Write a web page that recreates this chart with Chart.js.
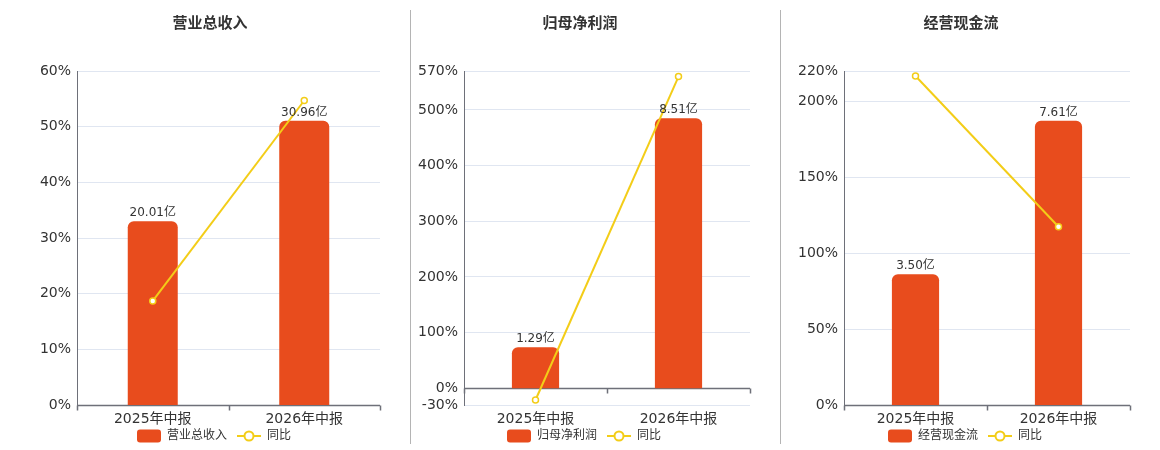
<!DOCTYPE html>
<html>
<head>
<meta charset="utf-8">
<script src="https://cdn.jsdelivr.net/npm/chart.js@4.4.1/dist/chart.umd.min.js"></script>
<style>
  html, body { margin:0; padding:0; background:#fff; overflow:hidden; }
  #wrap { position:relative; width:1160px; height:450px; overflow:hidden; background:#fff; }
  .panel { position:absolute; top:0; }
  .sep { position:absolute; top:10px; width:1px; height:434px; background:#b4b4b4; }
</style>
</head>
<body>
<div id="wrap">
  <div class="panel" style="left:0px;"><canvas id="c1" width="420" height="452"></canvas></div>
  <div class="panel" style="left:400px;"><canvas id="c2" width="360" height="452"></canvas></div>
  <div class="panel" style="left:770px;"><canvas id="c3" width="382" height="452"></canvas></div>
  <div class="sep" style="left:410px;"></div>
  <div class="sep" style="left:780px;"></div>
</div>
<script>
// ---- data ----
const categories = ['2025年中报', '2026年中报'];
const titles = ['营业总收入', '归母净利润', '经营现金流'];
const yoyLabel = '同比';
const unit = '亿';

const revenueValues = [20.01, 30.96];
const revenueYoY = [18.7, 54.7];
const revenueTicks = [0, 10, 20, 30, 40, 50, 60];

const profitValues = [1.29, 8.51];
const profitYoY = [-21.0, 560.0];
const profitTicks = [-30, 0, 100, 200, 300, 400, 500, 570];

const cashValues = [3.50, 7.61];
const cashYoY = [216.7, 117.4];
const cashTicks = [0, 50, 100, 150, 200, 220];

// ---- styles ----
const BAR = '#e84c1d';
const LINE = '#f3cd18';
const FONT = "'DejaVu Sans','Noto Sans CJK SC',sans-serif";
Chart.defaults.font.family = FONT;
Chart.defaults.color = '#333';

// legend icons: 8px transparent lead-in acts as the gap between legend items
function makeIcon(kind) {
  const c = document.createElement('canvas');
  c.width = 32; c.height = 14;
  const g = c.getContext('2d');
  if (kind === 'bar') {
    g.fillStyle = BAR;
    g.beginPath();
    g.roundRect(8, 0.5, 24, 13, 3);
    g.fill();
  } else {
    g.strokeStyle = LINE;
    g.lineWidth = 2;
    g.beginPath(); g.moveTo(8, 7); g.lineTo(32, 7); g.stroke();
    g.fillStyle = '#fff';
    g.beginPath(); g.arc(20, 7, 4.5, 0, Math.PI * 2); g.fill(); g.stroke();
  }
  return c;
}
const barIcon = makeIcon('bar');
const lineIcon = makeIcon('line');

const zeroAxisPlugin = {
  id: 'zeroAxis',
  beforeDatasetsDraw(chart) {
    const {ctx, chartArea} = chart;
    const y0 = Math.round(chart.scales.y.getPixelForValue(0)) + 0.5;
    ctx.save();
    ctx.strokeStyle = '#6e7079';
    ctx.lineWidth = 1.5;
    ctx.beginPath();
    ctx.moveTo(chartArea.left, y0);
    ctx.lineTo(chartArea.right, y0);
    const n = chart.data.labels.length;
    for (let i = 0; i <= n; i++) {
      const x = Math.round(chartArea.left + (chartArea.right - chartArea.left) * i / n) + 0.5;
      ctx.moveTo(x, y0);
      ctx.lineTo(x, y0 + 5);
    }
    ctx.stroke();
    ctx.restore();
  }
};

const barLabelPlugin = {
  id: 'barLabels',
  afterDatasetsDraw(chart) {
    const {ctx} = chart;
    const meta = chart.getDatasetMeta(0);
    const vals = chart.data.datasets[0].data;
    ctx.save();
    ctx.font = '12px ' + FONT;
    ctx.fillStyle = '#333';
    ctx.textAlign = 'center';
    ctx.textBaseline = 'alphabetic';
    meta.data.forEach((el, i) => {
      ctx.fillText(vals[i].toFixed(2) + unit, el.x, el.y - 5);
    });
    ctx.restore();
  }
};

function buildChart(id, title, values, yoy, ticks, yWidth, rightWidth) {
  const yMin = ticks[0], yMax = ticks[ticks.length - 1];
  const barMax = Math.max(...values) * 1.175;
  const barMin = yMin < 0 ? barMax * yMin / yMax : 0;
  new Chart(document.getElementById(id), {
    type: 'bar',
    data: {
      labels: categories,
      datasets: [
        {
          type: 'bar', label: title, data: values, yAxisID: 'y1', order: 1,
          backgroundColor: BAR, barPercentage: 0.33, categoryPercentage: 1,
          borderRadius: 6, borderSkipped: 'start'
        },
        {
          type: 'line', label: yoyLabel, data: yoy, yAxisID: 'y', order: 0,
          borderColor: LINE, borderWidth: 2, tension: 0,
          pointRadius: 3, pointBorderWidth: 1.5, pointBackgroundColor: '#fff',
          pointBorderColor: LINE
        }
      ]
    },
    options: {
      responsive: false,
      animation: false,
      layout: { padding: { top: 0, left: 0, right: 0, bottom: 0 } },
      plugins: {
        tooltip: { enabled: false },
        title: {
          display: true, text: title, color: '#333',
          font: { size: 15, weight: 'bold', family: FONT },
          padding: { top: 15, bottom: 38 }
        },
        legend: {
          position: 'bottom',
          labels: {
            usePointStyle: true, pointStyleWidth: 32, boxHeight: 12,
            font: { size: 12, family: FONT }, color: '#333', padding: 2,
            generateLabels: () => [
              { text: title, pointStyle: barIcon, fillStyle: BAR, strokeStyle: BAR, lineWidth: 0, hidden: false, datasetIndex: 0, fontColor: '#333' },
              { text: yoyLabel, pointStyle: lineIcon, fillStyle: LINE, strokeStyle: LINE, lineWidth: 0, hidden: false, datasetIndex: 1, fontColor: '#333' }
            ]
          }
        }
      },
      scales: {
        x: {
          offset: true,
          grid: { display: false, drawTicks: false },
          border: { display: false },
          ticks: { color: '#333', font: { size: 14 }, padding: 6, maxRotation: 0 },
          afterFit: s => { s.height = 23; }
        },
        y: {
          position: 'left', min: yMin, max: yMax,
          afterBuildTicks: s => { s.ticks = ticks.map(v => ({ value: v })); },
          ticks: { color: '#333', font: { size: 14 }, padding: 6, callback: v => v + '%' },
          grid: { color: '#e0e6f1', drawTicks: false },
          border: { display: true, color: '#6e7079', width: 1 },
          afterFit: s => { s.width = yWidth; }
        },
        y1: {
          position: 'right', min: barMin, max: barMax,
          ticks: { display: false },
          grid: { display: false, drawTicks: false },
          border: { display: false },
          afterFit: s => { s.width = rightWidth; }
        }
      }
    },
    plugins: [zeroAxisPlugin, barLabelPlugin]
  });
}

buildChart('c1', titles[0], revenueValues, revenueYoY, revenueTicks, 77, 40);
buildChart('c2', titles[1], profitValues, profitYoY, profitTicks, 64, 10);
buildChart('c3', titles[2], cashValues, cashYoY, cashTicks, 74, 22);
</script>
</body>
</html>
